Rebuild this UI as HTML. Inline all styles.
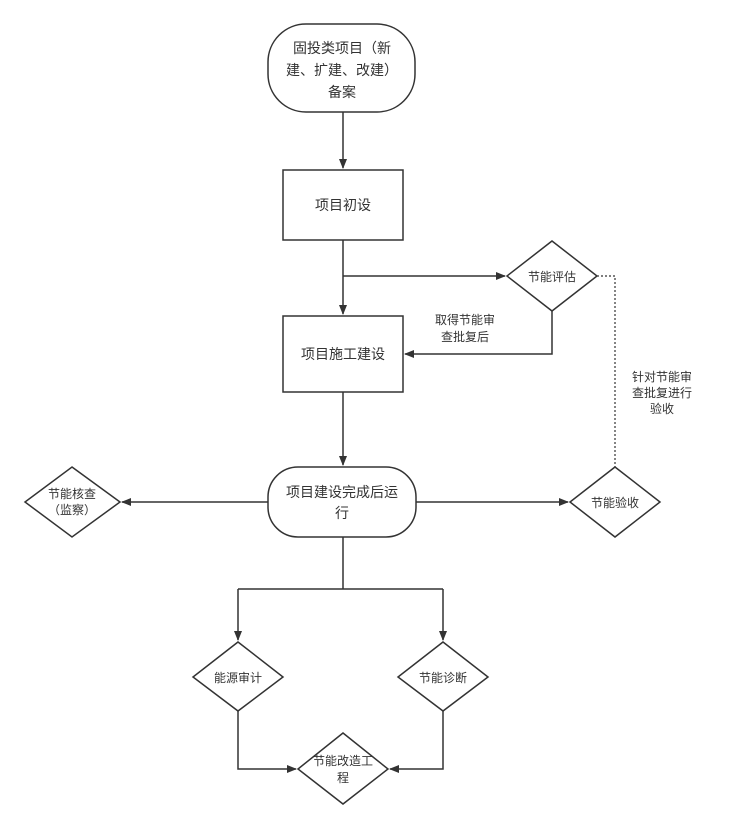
<!DOCTYPE html>
<html><head><meta charset="utf-8"><style>
body{margin:0;background:#fff;}
svg text{font-family:"Liberation Sans","Noto Sans CJK SC",sans-serif;fill:#333;text-anchor:middle;}
</style></head><body>
<svg width="732" height="829" viewBox="0 0 732 829" xmlns="http://www.w3.org/2000/svg">
<defs><marker id="a" markerWidth="10" markerHeight="10" refX="9" refY="5" orient="auto" markerUnits="userSpaceOnUse"><path d="M0,1 L10,5 L0,9 Z" fill="#333"/></marker></defs>
<g stroke="#333" stroke-width="1.5" fill="none">
<rect x="268" y="24" width="147" height="88" rx="38" fill="#fff"/>
<rect x="283" y="170" width="120" height="70" fill="#fff"/>
<rect x="283" y="316" width="120" height="76" fill="#fff"/>
<rect x="268" y="467" width="148" height="70" rx="30" fill="#fff"/>
<path d="M552,241 L597,276 L552,311 L507,276 Z" fill="#fff"/>
<path d="M615,467 L660,502 L615,537 L570,502 Z" fill="#fff"/>
<path d="M72,467 L120,502 L72,537 L25,502 Z" fill="#fff"/>
<path d="M238,642 L283,677 L238,711 L193,677 Z" fill="#fff"/>
<path d="M443,642 L488,677 L443,711 L398,677 Z" fill="#fff"/>
<path d="M343,733 L388,769 L343,804 L298,769 Z" fill="#fff"/>
<path d="M343,112 V168" marker-end="url(#a)"/>
<path d="M343,240 V314" marker-end="url(#a)"/>
<path d="M343,276 H505" marker-end="url(#a)"/>
<path d="M552,311 V354 H405" marker-end="url(#a)"/>
<path d="M343,392 V465" marker-end="url(#a)"/>
<path d="M268,502 H122" marker-end="url(#a)"/>
<path d="M416,502 H568" marker-end="url(#a)"/>
<path d="M597,276 H615 V467" stroke-dasharray="2,2" stroke-width="1.2"/>
<path d="M343,537 V589"/>
<path d="M238,589 H443"/>
<path d="M238,589 V640" marker-end="url(#a)"/>
<path d="M443,589 V640" marker-end="url(#a)"/>
<path d="M238,711 V769 H296" marker-end="url(#a)"/>
<path d="M443,711 V769 H390" marker-end="url(#a)"/>
</g>
<text x="342" y="53" font-size="14">固投类项目（新</text>
<text x="342" y="75" font-size="14">建、扩建、改建）</text>
<text x="342" y="97" font-size="14">备案</text>
<text x="343" y="210" font-size="14">项目初设</text>
<text x="343" y="359" font-size="14">项目施工建设</text>
<text x="342" y="497" font-size="14">项目建设完成后运</text>
<text x="342" y="518" font-size="14">行</text>
<text x="552" y="281" font-size="12">节能评估</text>
<text x="615" y="507" font-size="12">节能验收</text>
<text x="72" y="498" font-size="12">节能核查</text>
<text x="72" y="514" font-size="12">（监察）</text>
<text x="238" y="682" font-size="12">能源审计</text>
<text x="443" y="682" font-size="12">节能诊断</text>
<text x="343" y="765" font-size="12">节能改造工</text>
<text x="343" y="782" font-size="12">程</text>
<text x="465" y="324" font-size="12">取得节能审</text>
<text x="465" y="341" font-size="12">查批复后</text>
<text x="662" y="381" font-size="12">针对节能审</text>
<text x="662" y="397" font-size="12">查批复进行</text>
<text x="662" y="413" font-size="12">验收</text>
</svg>
</body></html>
